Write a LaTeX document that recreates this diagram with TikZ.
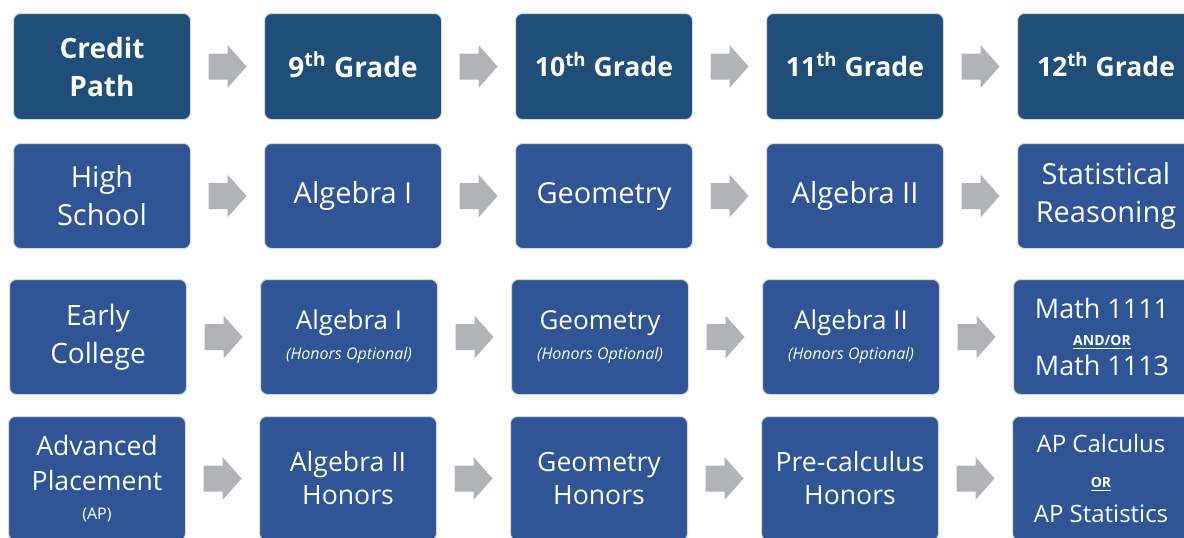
\documentclass[tikz,border=0pt]{standalone}
\usepackage{fontspec}
\setmainfont{Open Sans}
\usetikzlibrary{positioning,calc}

\definecolor{headblue}{HTML}{1F4E79}
\definecolor{pathblue}{HTML}{2F5597}
\definecolor{arrowgray}{HTML}{B1B3B8}

\tikzset{
  course/.style={rectangle, rounded corners=3.5pt, fill=pathblue, draw=gray!30,
    line width=0.5pt, text=white, align=center, inner sep=2pt,
    minimum width=88.5pt},
  header/.style={course, fill=headblue, font=\fontsize{13.3}{19}\selectfont\bfseries},
  big/.style={font=\fontsize{14.5}{19}\selectfont},
  mid/.style={font=\fontsize{13}{16}\selectfont},
}
\newcommand{\note}[1]{{\fontsize{8}{9}\selectfont\itshape #1}}
\newcommand{\either}[1]{{\fontsize{7}{8}\selectfont\bfseries\underline{#1}}}
\newcommand{\nth}{\smash{\textsuperscript{th}}}
% block arrow half way between two boxes
\newcommand{\gradearrow}[2]{\fill[arrowgray] ($(#1.east)!0.5!(#2.west)$)
  +(-19,13) -- +(0,13) -- +(0,21.5) -- +(19,0) -- +(0,-21.5) -- +(0,-13) -- +(-19,-13) -- cycle;}

\begin{document}
\begin{tikzpicture}[x=0.5pt,y=-0.5pt,node distance=36.5pt]
  \useasboundingbox[fill=white] (0,0) rectangle (1184,537);

  % header row
  \node[header, font=\fontsize{14}{19}\selectfont\bfseries, minimum height=53pt, anchor=north west] (credit) at (13,13) {Credit\\Path};
  \node[header, font=\fontsize{14}{19}\selectfont\bfseries, minimum height=53pt] (grade9) [right = of credit] {9\nth{} Grade};
  \node[header, minimum height=53pt] (grade10) [right = of grade9] {10\nth{} Grade};
  \node[header, minimum height=53pt] (grade11) [right = of grade10] {11\nth{} Grade};
  \node[header, minimum height=53pt] (grade12) [right = of grade11] {12\nth{} Grade};

  % high school
  \node[course, big, minimum height=52.5pt, anchor=north west] (high) at (13,143) {High\\School};
  \node[course, big, minimum height=52.5pt] (hs9) [right = of high] {Algebra I};
  \node[course, big, minimum height=52.5pt] (hs10) [right = of hs9] {Geometry};
  \node[course, big, minimum height=52.5pt] (hs11) [right = of hs10] {Algebra II};
  \node[course, big, minimum height=52.5pt] (hs12) [right = of hs11] {Statistical\\Reasoning};

  % early college
  \node[course, font=\fontsize{14}{19}\selectfont, minimum height=57.5pt, anchor=north west] (early) at (9,279) {Early\\College};
  \node[course, mid, minimum height=57.5pt] (ec9) [right = of early] {Algebra I\\[-1pt]\note{(Honors Optional)}};
  \node[course, mid, minimum height=57.5pt] (ec10) [right = of ec9] {Geometry\\[-1pt]\note{(Honors Optional)}};
  \node[course, mid, minimum height=57.5pt] (ec11) [right = of ec10] {Algebra II\\[-1pt]\note{(Honors Optional)}};
  \node[course, font=\fontsize{13.5}{13.5}\selectfont, minimum height=57.5pt] (ec12) [right = of ec11] {Math 1111\\\either{AND/OR}\\[1.5pt]Math 1113};

  % advanced placement
  \node[course, font=\fontsize{13.3}{17.5}\selectfont, minimum height=62pt, anchor=north west] (adv) at (8,416) {Advanced\\Placement\\[-3pt]{\fontsize{8}{9}\selectfont (AP)}};
  \node[course, font=\fontsize{13.3}{16.5}\selectfont, minimum height=62pt] (ap9) [right = of adv] {Algebra II\\Honors};
  \node[course, font=\fontsize{13.3}{16.5}\selectfont, minimum height=62pt] (ap10) [right = of ap9] {Geometry\\Honors};
  \node[course, font=\fontsize{13.3}{16.5}\selectfont, minimum height=62pt] (ap11) [right = of ap10] {Pre-calculus\\Honors};
  \node[course, font=\fontsize{12}{17.5}\selectfont, minimum height=62pt] (ap12) [right = of ap11] {AP Calculus\\\either{OR}\\AP Statistics};

  % arrows between the years
  \foreach \a/\b in {credit/grade9,grade9/grade10,grade10/grade11,grade11/grade12,
                     high/hs9,hs9/hs10,hs10/hs11,hs11/hs12,
                     early/ec9,ec9/ec10,ec10/ec11,ec11/ec12,
                     adv/ap9,ap9/ap10,ap10/ap11,ap11/ap12}
    {\gradearrow{\a}{\b}}
\end{tikzpicture}
\end{document}
